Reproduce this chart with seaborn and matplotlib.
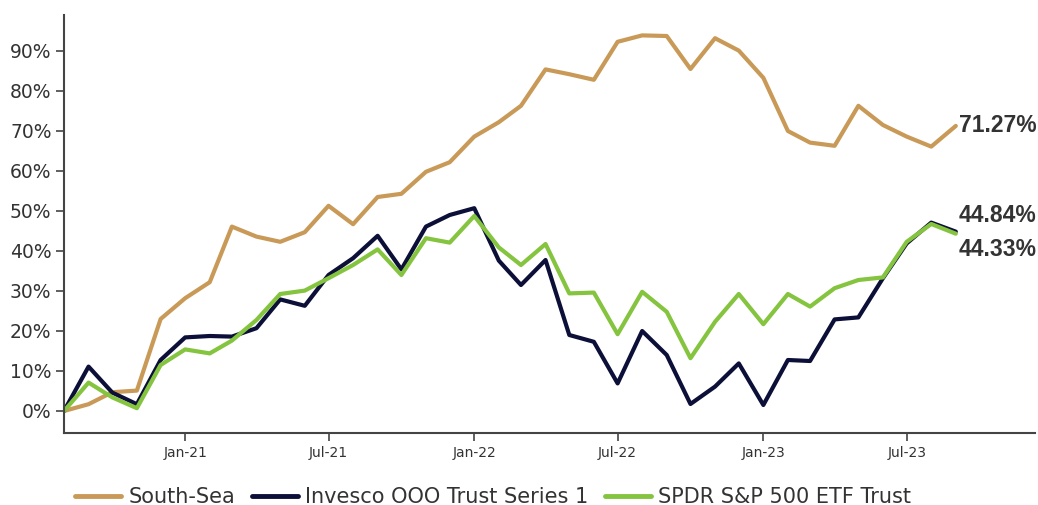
import matplotlib
matplotlib.use("Agg")
import matplotlib.pyplot as plt
import matplotlib.dates as mdates
import matplotlib.ticker as mticker
from matplotlib import font_manager as fm
import seaborn as sns
import pandas as pd
import numpy as np

months = pd.date_range("2020-08-01", "2023-09-01", freq="MS")

south_sea = [0.0, 1.7, 4.7, 5.1, 23.0, 28.2, 32.2, 46.1, 43.6, 42.3, 44.7, 51.3,
             46.7, 53.5, 54.3, 59.8, 62.2, 68.6, 72.2, 76.3, 85.4, 84.2, 82.8, 92.3,
             93.9, 93.75, 85.5, 93.2, 90.1, 83.3, 70.0, 67.1, 66.3, 76.3, 71.5, 68.6,
             66.1, 71.27]
invesco = [0.0, 11.1, 4.6, 1.7, 12.75, 18.4, 18.75, 18.6, 20.7, 27.9, 26.3, 34.0,
           38.2, 43.8, 35.4, 46.1, 49.0, 50.7, 37.6, 31.5, 37.75, 19.0, 17.3, 6.9,
           20.0, 14.0, 1.75, 6.1, 11.9, 1.5, 12.75, 12.5, 22.9, 23.4, 33.2, 41.9,
           47.1, 44.84]
spdr = [0.0, 7.1, 3.4, 0.7, 11.5, 15.4, 14.4, 17.6, 22.75, 29.25, 30.1, 33.2,
        36.5, 40.4, 34.0, 43.2, 42.1, 48.75, 40.9, 36.5, 41.75, 29.4, 29.6, 19.2,
        29.8, 24.8, 13.2, 22.3, 29.25, 21.7, 29.25, 26.1, 30.7, 32.75, 33.4, 42.3,
        46.75, 44.33]

series_names = ["South-Sea", "Invesco OOO Trust Series 1", "SPDR S&P 500 ETF Trust"]
series_values = [south_sea, invesco, spdr]
colors = ["#C99A57", "#0C0F38", "#84C43F"]
yticks = list(range(0, 100, 10))
xtick_dates = pd.to_datetime(["2021-01-01", "2021-07-01", "2022-01-01",
                              "2022-07-01", "2023-01-01", "2023-07-01"])

df = pd.concat([pd.DataFrame({"date": months, "value": v, "series": n})
                for n, v in zip(series_names, series_values)], ignore_index=True)

sns.set_style("white")
plt.rcParams["font.family"] = ["DejaVu Sans"]

# locate a regular-width bold Arial-like face
bold_path = None
for f in fm.fontManager.ttflist:
    if f.name == "Liberation Sans" and f.weight in (700, "bold") and f.style == "normal" \
            and "Narrow" not in f.fname:
        bold_path = f.fname
        break
if bold_path:
    label_fp = fm.FontProperties(fname=bold_path, size=16.5)
else:
    label_fp = fm.FontProperties(family="DejaVu Sans", weight="bold", size=15.5)

fig = plt.figure(figsize=(10.38, 5.05), dpi=100)
ax = fig.add_axes([64/1038, 1 - 433/505, (1035-64)/1038, (433-15)/505])

sns.lineplot(data=df, x="date", y="value", hue="series", palette=colors,
             hue_order=series_names, linewidth=3.0, ax=ax, legend=True)

ax.set_xlim(pd.Timestamp("2020-08-01"), pd.Timestamp("2023-12-10"))
ax.set_ylim(-5.5, 99)
ax.set_yticks(yticks)
ax.yaxis.set_major_formatter(mticker.FuncFormatter(lambda v, p: f"{v:.0f}%"))
ax.set_xticks(xtick_dates)
ax.xaxis.set_major_formatter(mdates.DateFormatter("%b-%y"))
ax.set_xlabel("")
ax.set_ylabel("")

for s in ["top", "right"]:
    ax.spines[s].set_visible(False)
for s in ["left", "bottom"]:
    ax.spines[s].set_color("#444444")
    ax.spines[s].set_linewidth(1.5)
ax.tick_params(axis="y", length=6, width=1.2, color="#444444", labelsize=13.5,
               labelcolor="#333333", pad=3, left=True)
ax.tick_params(axis="x", length=6, width=1.2, color="#444444", labelsize=10,
               labelcolor="#333333", pad=3, bottom=True)

last = months[-1]
offsets = [0, 11.5, -11.5]
for vals, off in zip(series_values, offsets):
    ax.annotate(f"{vals[-1]:.2f}%", xy=(last, vals[-1]), xytext=(2, off),
                textcoords="offset points", ha="left", va="center",
                fontproperties=label_fp, color="#333333")

handles, labels = ax.get_legend_handles_labels()
ax.legend_.remove()
leg = fig.legend(handles, labels, loc="center", bbox_to_anchor=(493/1038, 1 - 497/505),
                 ncol=3, frameon=False, fontsize=15, handlelength=2.2,
                 columnspacing=0.8, handletextpad=0.35, borderaxespad=0)
for t in leg.get_texts():
    t.set_color("#333333")
for h in leg.legend_handles:
    h.set_linewidth(3.5)

fig.savefig("out.png", dpi=100)
